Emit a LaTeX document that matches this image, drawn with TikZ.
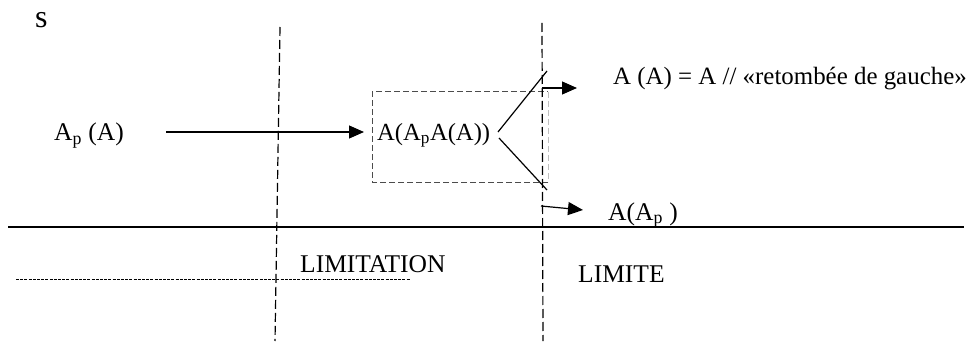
\documentclass[tikz,border=0pt]{standalone}
\usepackage{fontspec}
\setmainfont{Liberation Serif}
\usetikzlibrary{arrows.meta}
\begin{document}
\begin{tikzpicture}[x=1pt,y=-1pt,
  txt/.style={inner sep=0pt, anchor=base west, font=\fontsize{25.5}{30}\selectfont},
  arr/.style={-{Triangle[length=15pt,width=13pt]}, line width=1.2pt},
  vdash/.style={line width=1.2pt, dash pattern=on 9pt off 4pt},
  boxdash/.style={line width=1pt, dash pattern=on 6pt off 3pt},
  finedash/.style={line width=0.9pt, dash pattern=on 3pt off 1.2pt},
  fork/.style={line width=1.2pt}]
\useasboundingbox (0,0) rectangle (969,342);

% texts
\node[txt, font=\fontsize{32}{36}\selectfont] (s) at (35,28) {s};
\node[txt] (ap) at (54,141) {A\textsubscript{p} (A)};
\node[txt, font=\fontsize{24.6}{30}\selectfont] (mid) at (377,140) {A(A\textsubscript{p}A(A))};
\node[txt, font=\fontsize{24.9}{30}\selectfont] (top) at (613,85) {A (A) = A // «retombée de gauche»};
\node[txt] (bot) at (608,220) {A(A\textsubscript{p} )};
\node[txt] (limitation) at (300,272) {LIMITATION};
\node[txt] (limite) at (578,282) {LIMITE};

% coordinates
\coordinate (l1) at (280,27);
\coordinate (l2) at (275,341);
\coordinate (r1) at (542,23);
\coordinate (r2) at (543,341);
\coordinate (h1) at (8,227);
\coordinate (h2) at (964,227);
\coordinate (f1) at (16,279);
\coordinate (f2) at (410,279);
\coordinate (bnw) at (372,92);
\coordinate (bne) at (548,92);
\coordinate (bse) at (548,182);
\coordinate (bsw) at (372,182);
\coordinate (a0) at (166,132);
\coordinate (a1) at (364,132);
\coordinate (u0) at (498,132);
\coordinate (u1) at (547,71);
\coordinate (d0) at (499,138);
\coordinate (d1) at (547,190);
\coordinate (ua0) at (542,88);
\coordinate (ua1) at (577,88);
\coordinate (da0) at (541,206);
\coordinate (da1) at (583,210);

% box
\draw[boxdash, black!70] (bse) -- (bsw) -- (bnw) -- (bne);
\draw[boxdash, black!25] (bne) -- (bse);

% vertical limits
\draw[vdash] (l1) -- (l2);
\draw[vdash] (r1) -- (r2);

% horizontal lines
\draw[line width=2.4pt] (h1) -- (h2);
\draw[finedash] (f1) -- (f2);

% arrows
\draw[arr] (a0) -- (a1);
\draw[fork] (u0) -- (u1);
\draw[fork] (d0) -- (d1);
\draw[arr] (ua0) -- (ua1);
\draw[arr] (da0) -- (da1);
\end{tikzpicture}
\end{document}
